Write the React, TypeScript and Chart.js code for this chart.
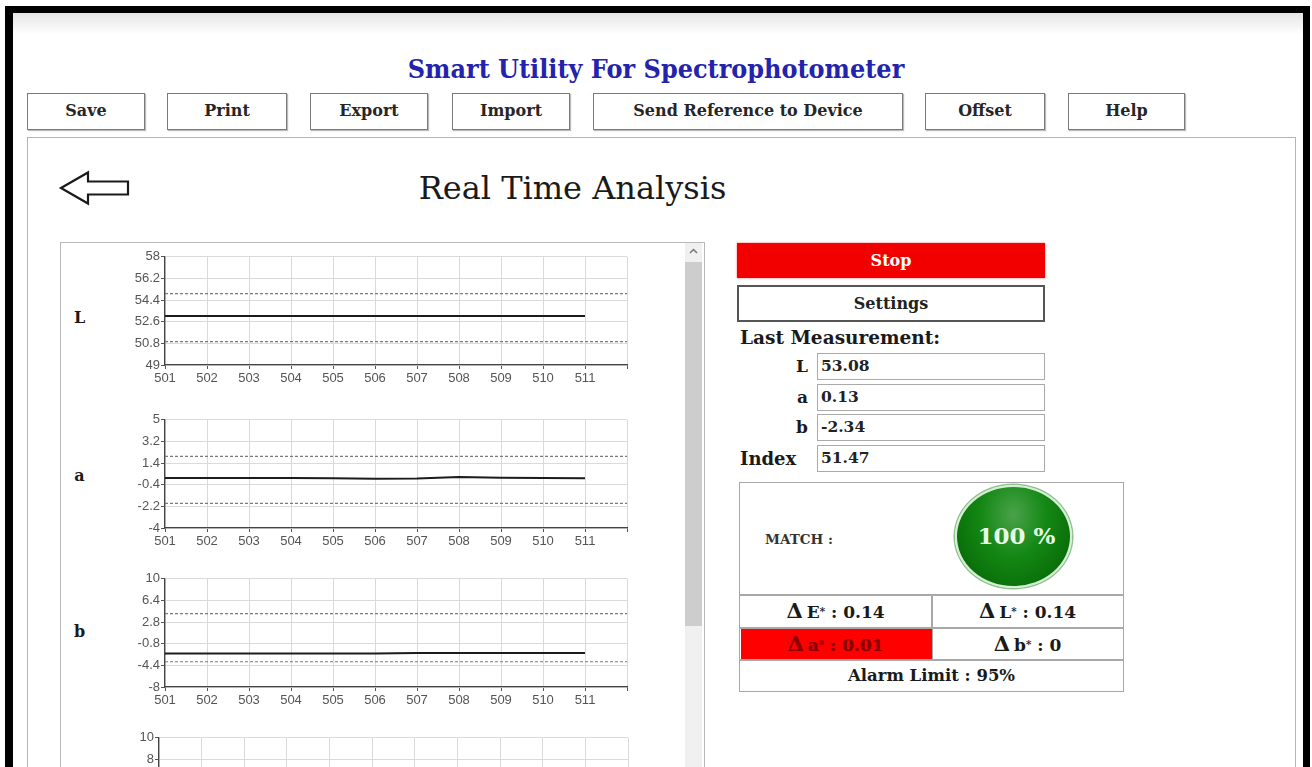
import React, { useEffect, useRef } from "react";
import { Chart, registerables } from "chart.js";

Chart.register(...registerables);

// ---------- data ----------
const samples = [501, 502, 503, 504, 505, 506, 507, 508, 509, 510, 511];
const xAxisTicks = [501, 502, 503, 504, 505, 506, 507, 508, 509, 510, 511, 512];

const lValues = [53.08, 53.08, 53.08, 53.08, 53.08, 53.08, 53.07, 53.07, 53.07, 53.08, 53.08];
const aValues = [0.15, 0.15, 0.15, 0.15, 0.14, 0.1, 0.11, 0.24, 0.17, 0.16, 0.13];
const bValues = [-2.42, -2.42, -2.42, -2.42, -2.42, -2.42, -2.36, -2.34, -2.34, -2.34, -2.34];
const indexValues = [-1, -1, -1, -1, -1, -1, -1, -1, -1, -1, -1];

const lLimits = [50.94, 54.94];
const aLimits = [-1.95, 1.95];
const bLimits = [-3.8, 4.2];

const lTicks = [49, 50.8, 52.6, 54.4, 56.2, 58];
const aTicks = [-4, -2.2, -0.4, 1.4, 3.2, 5];
const bTicks = [-8, -4.4, -0.8, 2.8, 6.4, 10];
const indexTicks = [0, 2, 4, 6, 8, 10];

const toolbarLabels = ["Save", "Print", "Export", "Import", "Send Reference to Device", "Offset", "Help"];
const measureLabels = ["L", "a", "b", "Index"];
const measureValues = ["53.08", "0.13", "-2.34", "51.47"];
const matchPercent = "100 %";
const deltaE = "0.14";
const deltaL = "0.14";
const deltaA = "0.01";
const deltaB = "0";
const alarmLimit = "95%";

// ---------- chart ----------
const CANVAS_LEFT = 96;
const CANVAS_W = 560;
const PAD_TOP = 8;
const PLOT_H = 109;
const XAXIS_H = 26;

function fmt(v: number) {
  return String(Math.round(v * 10) / 10);
}

type Spec = {
  top: number;
  plotLeft: number;
  plotRight: number;
  values: number[];
  limits: number[] | null;
  ticks: number[];
};

function MiniChart({ spec }: { spec: Spec }) {
  const ref = useRef<HTMLCanvasElement>(null);
  useEffect(() => {
    const datasets: any[] = [
      {
        data: samples.map((x, i) => ({ x, y: spec.values[i] })),
        borderColor: "#1c1c1c",
        borderWidth: 2,
        pointRadius: 0,
        tension: 0,
      },
    ];
    if (spec.limits) {
      spec.limits.forEach((lim) =>
        datasets.push({
          data: [
            { x: xAxisTicks[0], y: lim },
            { x: xAxisTicks[xAxisTicks.length - 1], y: lim },
          ],
          borderColor: "#7a7a7a",
          borderWidth: 1.2,
          borderDash: [3, 2],
          pointRadius: 0,
        })
      );
    }
    const tickFont = { family: "'Liberation Sans', Arial, sans-serif", size: 13 };
    const chart = new Chart(ref.current as HTMLCanvasElement, {
      type: "line",
      data: { datasets },
      options: {
        animation: false,
        responsive: false,
        events: [],
        layout: { padding: { top: PAD_TOP, right: CANVAS_LEFT + CANVAS_W - spec.plotRight, left: 0, bottom: 0 } },
        plugins: { legend: { display: false }, tooltip: { enabled: false } },
        scales: {
          x: {
            type: "linear",
            min: xAxisTicks[0],
            max: xAxisTicks[xAxisTicks.length - 1],
            afterBuildTicks: (s: any) => {
              s.ticks = xAxisTicks.map((v) => ({ value: v }));
            },
            afterFit: (s: any) => {
              s.height = XAXIS_H;
            },
            grid: { color: "#dadada", tickColor: "#555", tickLength: 4, lineWidth: 1 },
            border: { display: true, color: "#444", width: 1.3 },
            ticks: {
              color: "#555",
              font: tickFont,
              padding: 2,
              maxRotation: 0,
              autoSkip: false,
              callback: (v: any) => (v === xAxisTicks[xAxisTicks.length - 1] ? "" : String(v)),
            },
          },
          y: {
            type: "linear",
            min: spec.ticks[0],
            max: spec.ticks[spec.ticks.length - 1],
            afterBuildTicks: (s: any) => {
              s.ticks = spec.ticks.map((v) => ({ value: v }));
            },
            afterFit: (s: any) => {
              s.width = spec.plotLeft - CANVAS_LEFT;
            },
            grid: { color: "#dadada", tickColor: "#555", tickLength: 4, lineWidth: 1 },
            border: { display: true, color: "#444", width: 1.3 },
            ticks: {
              color: "#555",
              font: tickFont,
              padding: 1,
              autoSkip: false,
              callback: (v: any) => fmt(Number(v)),
            },
          },
        },
      },
    } as any);
    return () => chart.destroy();
  }, []);
  return (
    <canvas
      ref={ref}
      width={CANVAS_W}
      height={PAD_TOP + PLOT_H + XAXIS_H}
      style={{ position: "absolute", left: CANVAS_LEFT, top: spec.top - PAD_TOP, display: "block" }}
    />
  );
}

// ---------- layout ----------
const SERIF = "'DejaVu Serif', 'Liberation Serif', serif";

const abs = (left: number, top: number, width?: number, height?: number): React.CSSProperties => ({
  position: "absolute",
  left,
  top,
  width,
  height,
  boxSizing: "border-box",
});

const buttonBoxes = [
  [27, 118],
  [167, 120],
  [310, 118],
  [452, 118],
  [593, 310],
  [925, 120],
  [1068, 117],
];

function Star() {
  return <sup style={{ fontSize: "0.6em", position: "relative", top: "-0.3em", verticalAlign: "baseline" }}>*</sup>;
}

const deltaStyle: React.CSSProperties = { fontSize: 21, marginRight: 4 };

export default function App() {
  const charts: Spec[] = [
    { top: 256, plotLeft: 165, plotRight: 627, values: lValues, limits: lLimits, ticks: lTicks },
    { top: 419, plotLeft: 165, plotRight: 627, values: aValues, limits: aLimits, ticks: aTicks },
    { top: 578, plotLeft: 165, plotRight: 627, values: bValues, limits: bLimits, ticks: bTicks },
    { top: 737, plotLeft: 159, plotRight: 628, values: indexValues, limits: null, ticks: indexTicks },
  ];
  const chartLetters = [
    ["L", 318],
    ["a", 476],
    ["b", 632],
  ];
  const rowTops = [353, 384, 414, 445];
  return (
    <div
      style={{
        position: "fixed",
        left: 0,
        top: 0,
        width: 1312,
        height: 767,
        overflow: "hidden",
        background: "#fff",
        fontFamily: SERIF,
        color: "#1a1a1a",
      }}
    >
      {/* outer frame */}
      <div style={{ ...abs(6, 13, 1300, 22), background: "linear-gradient(#e6e6e6, #fff)" }} />
      <div style={{ ...abs(6, 6, 1301, 7), background: "#000" }} />
      <div style={{ ...abs(5, 6, 8, 761), background: "#000" }} />
      <div style={{ ...abs(1303, 6, 7, 761), background: "#000" }} />

      {/* title */}
      <div
        style={{
          ...abs(250, 53, 812, 34),
          textAlign: "center",
          fontWeight: "bold",
          fontSize: 24,
          color: "#2323ad",
          lineHeight: "34px",
          transform: "scaleY(1.05)",
        }}
      >
        Smart Utility For Spectrophotometer
      </div>

      {/* toolbar */}
      {toolbarLabels.map((label, i) => (
        <div
          key={label}
          style={{
            ...abs(buttonBoxes[i][0], 93, buttonBoxes[i][1], 37),
            border: "1.5px solid #7a7a7a",
            boxShadow: "1px 1px 1px #bbb",
            background: "#fff",
            textAlign: "center",
            lineHeight: "34px",
            fontWeight: "bold",
            fontSize: 16,
            color: "#262626",
          }}
        >
          {label}
        </div>
      ))}

      {/* main panel */}
      <div style={{ ...abs(27, 137, 1269, 640), border: "1.5px solid #b5b5b5", borderBottom: "none" }} />

      {/* back arrow */}
      <svg style={{ position: "absolute", left: 56, top: 168 }} width={80} height={44}>
        <path
          d="M5 20 L32 4.5 L32 13.5 L72 13.5 L72 26.5 L32 26.5 L32 35.5 Z"
          fill="#fff"
          stroke="#1a1a1a"
          strokeWidth={2.2}
          strokeLinejoin="miter"
        />
      </svg>

      <div style={{ ...abs(340, 166, 465, 44), textAlign: "center", fontSize: 32, lineHeight: "44px", color: "#1a1a1a" }}>
        Real Time Analysis
      </div>

      {/* chart scroll panel */}
      <div style={{ ...abs(60, 242, 645, 540), border: "1.5px solid #b9b9b9", borderBottom: "none", overflow: "hidden" }}>
        <div style={{ position: "absolute", left: -61.5, top: -243.5, width: 1312, height: 767 }}>
          {charts.map((c, i) => (
            <MiniChart key={i} spec={c} />
          ))}
          {chartLetters.map(([t, y]) => (
            <div
              key={t as string}
              style={{ ...abs(68, (y as number) - 12, 24, 24), fontWeight: "bold", fontSize: 16, lineHeight: "24px", textAlign: "center" }}
            >
              {t}
            </div>
          ))}
          {/* scrollbar */}
          <div style={{ ...abs(685, 243, 17, 530), background: "#f0f0f0" }} />
          <div style={{ ...abs(685, 262, 17, 364), background: "#cdcdcd" }} />
          <svg style={{ position: "absolute", left: 688, top: 246 }} width={11} height={10}>
            <polyline points="2,7 5.5,3.5 9,7" fill="none" stroke="#777" strokeWidth={1.5} />
          </svg>
        </div>
      </div>

      {/* right side */}
      <div
        style={{
          ...abs(737, 243, 308, 35),
          background: "#f20000",
          color: "#fff",
          fontWeight: "bold",
          fontSize: 16,
          textAlign: "center",
          lineHeight: "35px",
          boxShadow: "0 0 2px #f66",
        }}
      >
        Stop
      </div>
      <div
        style={{
          ...abs(737, 285, 308, 37),
          border: "2px solid #555",
          background: "#fff",
          fontWeight: "bold",
          fontSize: 16,
          textAlign: "center",
          lineHeight: "33px",
          color: "#222",
        }}
      >
        Settings
      </div>
      <div style={{ ...abs(740, 326, 300, 24), fontWeight: "bold", fontSize: 18.5, lineHeight: "24px", color: "#1a1a1a" }}>
        Last Measurement:
      </div>
      {measureLabels.map((lab, i) => (
        <React.Fragment key={lab}>
          <div
            style={{
              ...abs(i === 3 ? 740 : 760, rowTops[i], i === 3 ? 76 : 48, 27),
              fontWeight: "bold",
              fontSize: i === 3 ? 18 : 17,
              lineHeight: "27px",
              textAlign: i === 3 ? "left" : "right",
            }}
          >
            {lab}
          </div>
          <div
            style={{
              ...abs(817, rowTops[i], 228, 27),
              border: "1.5px solid #aaa",
              fontWeight: "bold",
              fontSize: 15.5,
              lineHeight: "24px",
              paddingLeft: 3,
              color: "#222",
            }}
          >
            {measureValues[i]}
          </div>
        </React.Fragment>
      ))}

      {/* match box */}
      <div style={{ ...abs(739, 482, 385, 210), border: "1.5px solid #a8a8a8" }} />
      <div style={{ ...abs(765, 527, 120, 24), fontWeight: "bold", fontSize: 13.5, lineHeight: "24px", color: "#333" }}>
        MATCH :
      </div>
      <div
        style={{
          ...abs(955, 485, 117, 103),
          borderRadius: "50%",
          border: "2.5px solid #d6ecd6",
          boxShadow: "0 0 0 1.5px #8cc48c",
          background: "radial-gradient(ellipse at 50% 28%, #4aa24a 0%, #138713 42%, #0a700a 75%, #055705 100%)",
          textAlign: "center",
          lineHeight: "98px",
          fontWeight: "bold",
          fontSize: 23,
          color: "#e6ffe6",
          paddingLeft: 6,
        }}
      >
        {matchPercent}
      </div>
      <div style={{ ...abs(739, 594, 385, 1.5), background: "#a8a8a8" }} />
      <div style={{ ...abs(739, 627, 385, 1.5), background: "#a8a8a8" }} />
      <div style={{ ...abs(739, 659, 385, 1.5), background: "#a8a8a8" }} />
      <div style={{ ...abs(931, 594, 1.5, 66), background: "#a8a8a8" }} />
      <div style={{ ...abs(740.5, 628.5, 191, 30.5), background: "#f00" }} />

      <div style={{ ...abs(740, 595, 191, 32), textAlign: "center", fontWeight: "bold", fontSize: 17, lineHeight: "32px" }}>
        <span style={deltaStyle}>Δ</span>E<Star /> : {deltaE}
      </div>
      <div style={{ ...abs(932, 595, 191, 32), textAlign: "center", fontWeight: "bold", fontSize: 17, lineHeight: "32px" }}>
        <span style={deltaStyle}>Δ</span>L<Star /> : {deltaL}
      </div>
      <div
        style={{
          ...abs(740, 628, 191, 31),
          textAlign: "center",
          fontWeight: "bold",
          fontSize: 17,
          lineHeight: "31px",
          color: "#8a0000",
          textShadow: "0 0 1px #b00",
        }}
      >
        <span style={deltaStyle}>Δ</span>a<Star /> : {deltaA}
      </div>
      <div style={{ ...abs(932, 628, 191, 31), textAlign: "center", fontWeight: "bold", fontSize: 17, lineHeight: "31px" }}>
        <span style={deltaStyle}>Δ</span>b<Star /> : {deltaB}
      </div>
      <div style={{ ...abs(740, 660, 383, 31), textAlign: "center", fontWeight: "bold", fontSize: 16.5, lineHeight: "31px" }}>
        Alarm Limit : {alarmLimit}
      </div>
    </div>
  );
}
